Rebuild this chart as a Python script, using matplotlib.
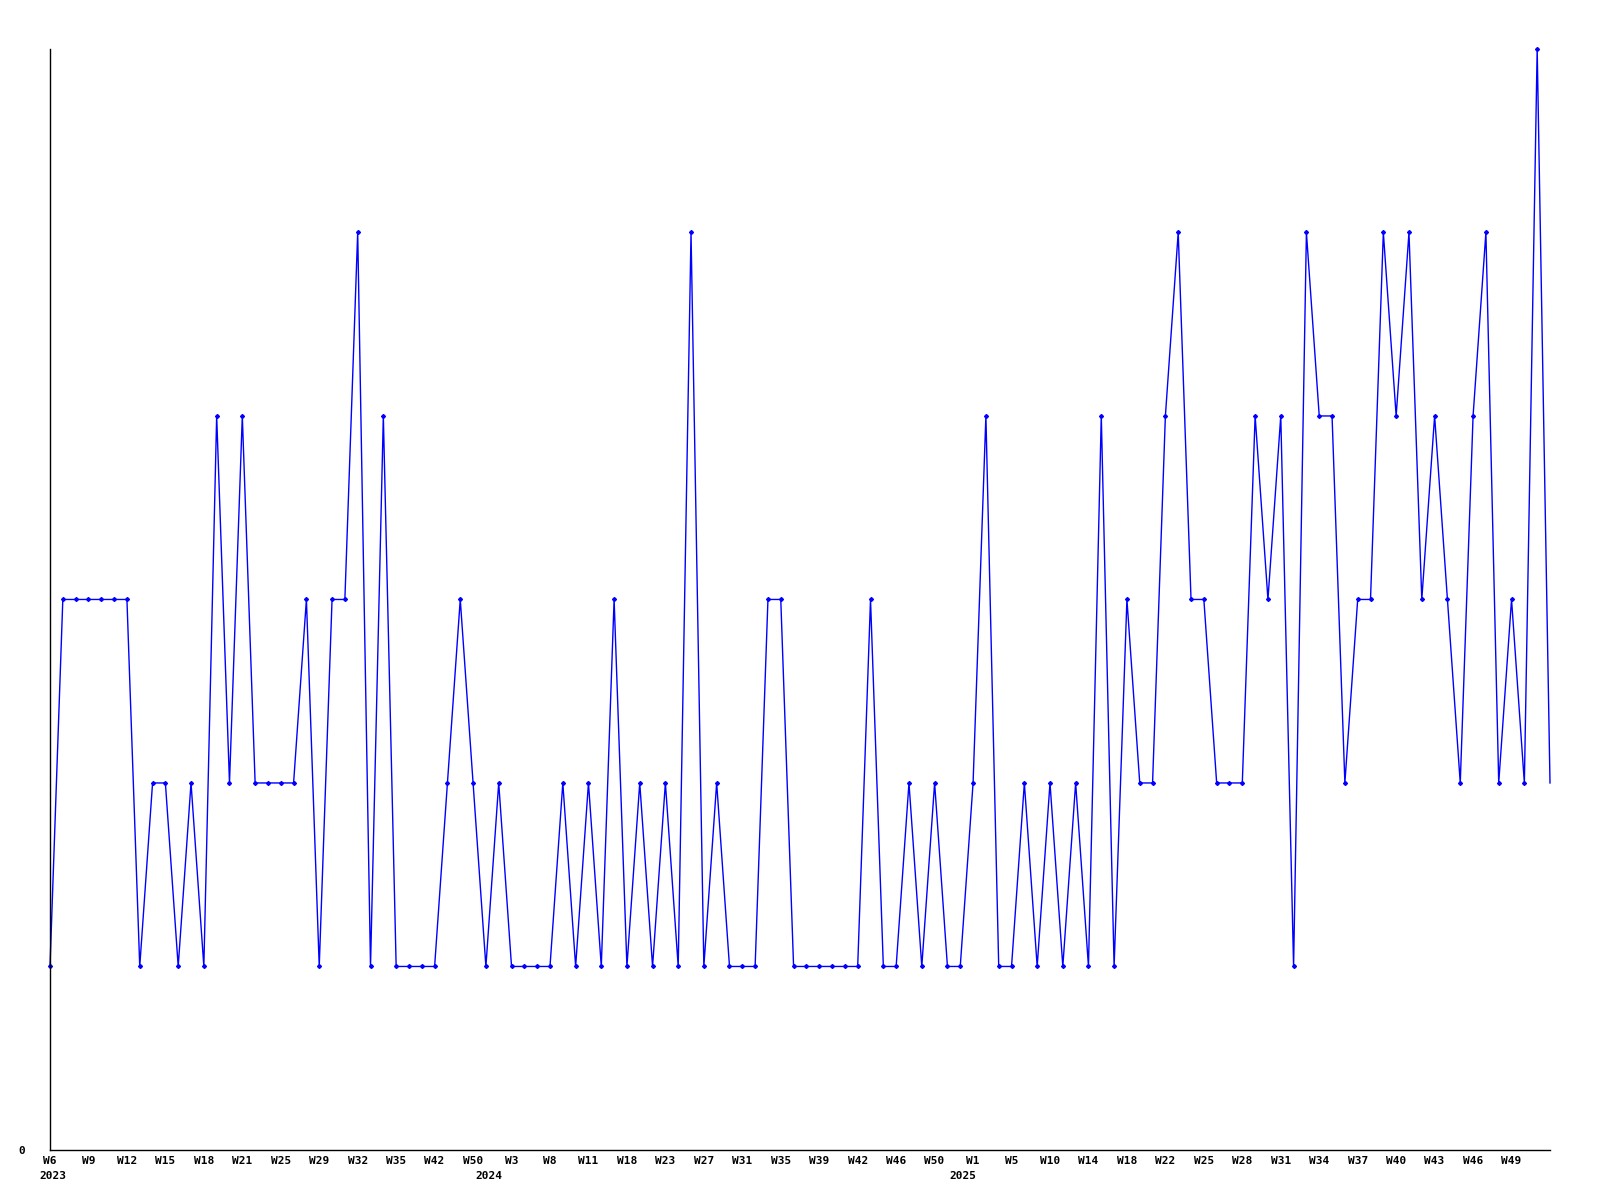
import matplotlib
matplotlib.use("Agg")
import matplotlib.pyplot as plt

# weekly counts, one per data point (weeks without data are skipped)
values = [
    1, 3, 3, 3, 3, 3, 3, 1, 2, 2, 1, 2, 1, 4, 2, 4, 2, 2, 2, 2,
    3, 1, 3, 3, 5, 1, 4, 1, 1, 1, 1, 2, 3, 2, 1, 2, 1, 1, 1, 1,
    2, 1, 2, 1, 3, 1, 2, 1, 2, 1, 5, 1, 2, 1, 1, 1, 3, 3, 1, 1,
    1, 1, 1, 1, 3, 1, 1, 2, 1, 2, 1, 1, 2, 4, 1, 1, 2, 1, 2, 1,
    2, 1, 4, 1, 3, 2, 2, 4, 5, 3, 3, 2, 2, 2, 4, 3, 4, 1, 5, 4,
    4, 2, 3, 3, 5, 4, 5, 3, 4, 3, 2, 4, 5, 2, 3, 2, 6, 2,
]

# a label on every third point
tick_labels = [
    "W6", "W9", "W12", "W15", "W18", "W21", "W25", "W29", "W32", "W35",
    "W42", "W50", "W3", "W8", "W11", "W18", "W23", "W27", "W31", "W35",
    "W39", "W42", "W46", "W50", "W1", "W5", "W10", "W14", "W18", "W22",
    "W25", "W28", "W31", "W34", "W37", "W40", "W43", "W46", "W49",
]
tick_step = 3

# first point of each year
year_labels = ["2023", "2024", "2025"]
year_starts = [0, 34, 71]

plt.rcParams["font.family"] = ["DejaVu Sans Mono"]
plt.rcParams["font.weight"] = "bold"

fig = plt.figure(figsize=(16, 12), dpi=100)
ax = fig.add_axes([0.03125, 0.0417, 0.9375, 0.9175])

x = list(range(len(values)))
ax.plot(x, values, color="#0000ff", linewidth=1.0,
        marker="D", markersize=2.0, markevery=x[:-1], clip_on=False)

ax.set_xlim(0, len(values) - 1)
ax.set_ylim(0, max(values))

ax.spines["top"].set_visible(False)
ax.spines["right"].set_visible(False)
for side in ("left", "bottom"):
    ax.spines[side].set_linewidth(1.0)
    ax.spines[side].set_color("black")

ax.set_yticks([0])
ax.set_yticklabels(["0"], fontsize=8, fontweight="bold")
ax.tick_params(axis="y", length=0, pad=18)

ax.set_xticks(x[::tick_step][:len(tick_labels)])
ax.set_xticklabels(tick_labels, fontsize=8, fontweight="bold")
ax.tick_params(axis="x", length=0, pad=4)

for label, start in zip(year_labels, year_starts):
    ax.annotate(label, xy=(start, 0), xycoords=("data", "axes fraction"),
                xytext=(2, -15), textcoords="offset points",
                ha="center", va="top", fontsize=8, fontweight="bold",
                annotation_clip=False)

fig.savefig("out.png", dpi=100)
